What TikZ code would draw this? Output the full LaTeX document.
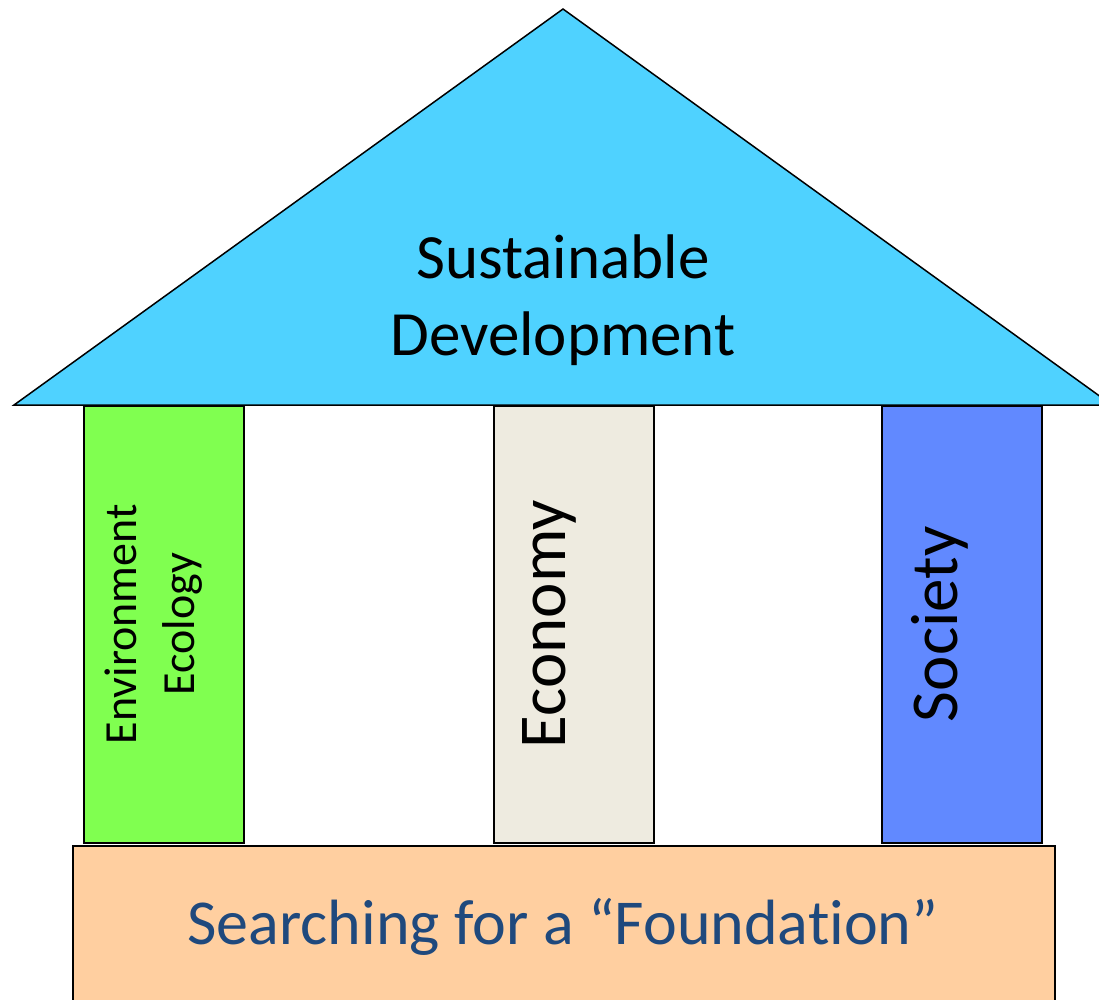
\documentclass[tikz,border=0pt]{standalone}
\usepackage{fontspec}
\setmainfont{Carlito}[Ligatures=NoCommon]
\definecolor{roofc}{HTML}{4FD2FF}
\definecolor{envc}{HTML}{80FF50}
\definecolor{ecoc}{HTML}{EEEBE0}
\definecolor{socc}{HTML}{6189FF}
\definecolor{foundc}{HTML}{FFCFA0}
\definecolor{foundtext}{HTML}{1F497D}
\begin{document}
\begin{tikzpicture}[x=1pt,y=-1pt,
  part/.style={draw=black,line width=1.5pt},
  pillar/.style={part,minimum width=160pt,minimum height=437pt,anchor=north west,inner sep=0pt}]
\useasboundingbox (0,0) rectangle (1099,999);
\begin{scope}
\clip (0,0) rectangle (1099,999);
\fill[roofc,draw=black,line width=1.5pt,line join=miter] (14,405) -- (563,9) -- (1112,405) -- cycle;
\node[pillar,fill=envc] (env) at (83,405) {};
\node[pillar,fill=ecoc] (eco) at (493,405) {};
\node[pillar,fill=socc] (soc) at (881,405) {};
\node[part,fill=foundc,minimum width=982pt,minimum height=200pt,anchor=north west,inner sep=0pt] (found) at (72,845) {};
\end{scope}
\node[align=center,font=\fontsize{63}{77}\selectfont] (roof) at (563,300) {Sustainable\\Development};
\node[rotate=90,align=center,font=\fontsize{46}{58}\selectfont] (envt) at ([xshift=-10pt]env.center) {Environment\\Ecology};
\node[rotate=90,font=\fontsize{67}{80}\selectfont] (ecot) at ([xshift=-24pt]eco.center) {Economy};
\node[rotate=90,font=\fontsize{67}{80}\selectfont] (soct) at ([xshift=-22pt]soc.center) {Society};
\node[text=foundtext,font=\fontsize{64}{76}\selectfont] (foundt) at (563,927) {Searching for a “Foundation”};
\end{tikzpicture}
\end{document}
